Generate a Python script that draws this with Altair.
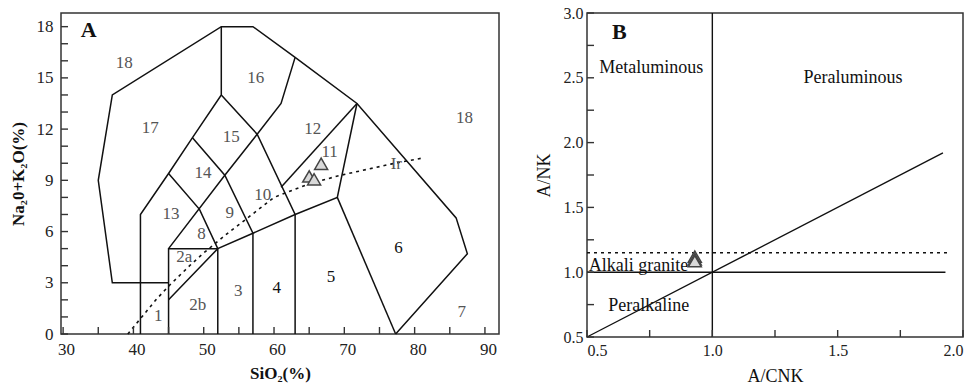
import altair as alt
import pandas as pd

SERIF = "Liberation Serif, Times New Roman, serif"
INK = "#111111"
GREY_TXT = "#555555"

# ---------------- Panel A: TAS diagram (Middlemost, 1994) ----------------
# Field boundaries as polylines of (SiO2 %, Na2O+K2O %)
outer_boundary = [(45, 3), (37, 3), (35, 9), (37, 14), (52.5, 18), (57, 18), (63, 16.2),
                  (71.8, 13.5), (85.9, 6.8), (87.5, 4.7), (77.3, 0)]
line_41 = [(41, 0), (41, 7), (45, 9.4), (48.4, 11.5), (52.5, 14), (52.5, 18)]
line_63 = [(52.5, 14), (57.6, 11.7), (63, 7), (63, 0)]
gabbro_box = [(45, 0), (45, 5), (52, 5), (52, 0)]
alkaline_base = [(45, 2), (52, 5), (57, 5.9), (63, 7), (69, 8), (71.8, 13.5)]
granite_left = [(69, 8), (77.3, 0)]
monzo_upper = [(45, 5), (53, 9.3), (57.6, 11.7), (61, 13.5), (63, 16.2)]
foid_gabbro_right = [(45, 9.4), (49.4, 7.3), (52, 5)]
monzodiorite_left = [(48.4, 11.5), (53, 9.3), (57, 5.9), (57, 0)]
syenite_base = [(61, 8.6), (71.8, 13.5)]

# Irvine & Baragar alkaline / subalkaline divide
irvine_sio2 = [39.2, 40, 43.2, 45, 48, 50, 53.7, 55, 60, 65, 69.5, 76.6, 81.4]
irvine_alk = [0, 0.4, 2.0, 2.8, 4.0, 4.75, 6.0, 6.4, 8.0, 8.8, 9.3, 9.95, 10.33]

# Samples
sample_sio2 = [66.7, 65.0, 65.7]
sample_alk = [9.97, 9.23, 9.06]

# Field numbers
field_names = ["18", "16", "17", "15", "12", "11", "Ir", "18", "14", "10", "13", "9", "8",
               "2a", "2b", "1", "3", "4", "5", "6", "7"]
field_sio2 = [38.7, 57.4, 42.4, 53.9, 65.5, 67.9, 77.4, 87.1, 49.9, 58.4, 45.35, 53.7, 49.7,
              47.25, 49.15, 43.55, 54.9, 60.4, 68.1, 77.7, 86.7]
field_alk = [15.85, 14.97, 12.05, 11.56, 11.99, 10.68, 9.96, 12.67, 9.41, 8.14, 7.03, 7.07, 5.83,
             4.53, 1.70, 1.05, 2.52, 2.71, 3.36, 5.06, 1.31]
dark_fields = {"4", "5", "6"}

sio2_ticks = list(range(30, 91, 5))
alk_ticks = list(range(0, 19, 1))

# ---------------- Panel B: A/CNK vs A/NK ----------------
acnk_split = [(1.0, 0.5), (1.0, 3.0)]
anK_split = [(0.5, 1.0), (1.93, 1.0)]
equal_line = [(0.5, 0.5), (1.92, 1.92)]
alkali_granite_limit = [(0.5, 1.15), (1.945, 1.15)]

b_sample_acnk = [0.93, 0.93, 0.93]
b_sample_ank = [1.12, 1.10, 1.085]

b_labels = ["Metaluminous", "Peraluminous", "Peralkaline"]
b_label_x = [0.756, 1.561, 0.746]
b_label_y = [2.579, 2.50, 0.739]

acnk_ticks = [0.5, 0.75, 1.0, 1.25, 1.5, 1.75, 2.0]
ank_ticks = [0.5, 0.75, 1.0, 1.25, 1.5, 1.75, 2.0, 2.25, 2.5, 2.75, 3.0]

W_A, H_A = 438, 321
W_B, H_B = 376, 324
TICK = 7


def polylines(named):
    rows = []
    for name, pts in named.items():
        for i, (px, py) in enumerate(pts):
            rows.append({"seg": name, "ord": i, "x": px, "y": py})
    return pd.DataFrame(rows)


def axis_kw(title, bold, size):
    return dict(ticks=False, domain=False, grid=False, labelOverlap=False,
                labelFont=SERIF, labelColor="#222", titleFont=SERIF,
                titleFontWeight="bold" if bold else "normal", titleFontSize=size,
                titleColor="#111", title=title)


# ---- Panel A ----
xA = alt.X("x:Q", scale=alt.Scale(domain=[29.7, 92.0], nice=False, zero=False),
           axis=alt.Axis(values=list(range(30, 91, 10)), labelFontSize=17, labelPadding=7,
                         labelOffset=3, titlePadding=8, **axis_kw("SiO₂(%)", True, 17)))
yA = alt.Y("y:Q", scale=alt.Scale(domain=[0, 18.8], nice=False, zero=False),
           axis=alt.Axis(values=list(range(0, 19, 3)), labelFontSize=17, labelPadding=8,
                         titlePadding=9, **axis_kw("Na₂0+K₂O(%)", True, 17)))

bounds_df = polylines({
    "outer": outer_boundary, "l41": line_41, "l63": line_63, "gab": gabbro_box,
    "alk": alkaline_base, "gra": granite_left, "monzo": monzo_upper,
    "foid": foid_gabbro_right, "mdio": monzodiorite_left, "sye": syenite_base,
})
bounds = alt.Chart(bounds_df).mark_line(color=INK, strokeWidth=1.5).encode(
    x=xA, y=yA, detail="seg:N", order="ord:Q")

irv_df = pd.DataFrame({"x": irvine_sio2, "y": irvine_alk})
irvine = alt.Chart(irv_df).mark_line(color=INK, strokeWidth=1.6, strokeDash=[3, 4]).encode(
    x=xA, y=yA, order=alt.Order("x:Q"))

lab_df = pd.DataFrame({"x": field_sio2, "y": field_alk, "t": field_names})
lab_df["c"] = [INK if t in dark_fields else GREY_TXT for t in field_names]
labels_a = alt.Chart(lab_df).mark_text(font=SERIF, fontSize=17, baseline="middle").encode(
    x=xA, y=yA, text="t:N", color=alt.Color("c:N", scale=None))

samp_a = alt.Chart(pd.DataFrame({"x": sample_sio2, "y": sample_alk})).mark_point(
    shape="triangle-up", filled=True, size=170, fill="#d9d9d9", stroke="#444",
    strokeWidth=1.5, opacity=1).encode(x=xA, y=yA)

xt_a = alt.Chart(pd.DataFrame({"x": sio2_ticks})).mark_rule(color="#333", strokeWidth=1.4).encode(
    x=xA, y=alt.value(H_A), y2=alt.value(H_A - TICK))
yt_a = alt.Chart(pd.DataFrame({"y": alk_ticks})).mark_rule(color="#333", strokeWidth=1.4).encode(
    y=yA, x=alt.value(0), x2=alt.value(TICK))

tag_a = alt.Chart(pd.DataFrame({"x": [33.64], "y": [17.78], "t": ["A"]})).mark_text(
    font=SERIF, fontSize=22, fontWeight="bold", color=INK, baseline="middle").encode(
    x=xA, y=yA, text="t:N")

panel_a = alt.layer(bounds, irvine, xt_a, yt_a, labels_a, samp_a, tag_a).properties(
    width=W_A, height=H_A)

# ---- Panel B ----
xB = alt.X("x:Q", scale=alt.Scale(domain=[0.5, 2.0], nice=False, zero=False),
           axis=alt.Axis(values=[0.5, 1.0, 1.5, 2.0], format=".1f", labelFontSize=16,
                         labelPadding=5, titlePadding=9, **axis_kw("A/CNK", False, 18)))
yB = alt.Y("y:Q", scale=alt.Scale(domain=[0.5, 3.0], nice=False, zero=False),
           axis=alt.Axis(values=[0.5, 1.0, 1.5, 2.0, 2.5, 3.0], format=".1f", labelFontSize=16,
                         labelPadding=4, titlePadding=10, **axis_kw("A/NK", False, 18)))

solid_b = alt.Chart(polylines({"v": acnk_split, "h": anK_split, "d": equal_line})).mark_line(
    color=INK, strokeWidth=1.4).encode(x=xB, y=yB, detail="seg:N", order="ord:Q")
dash_b = alt.Chart(polylines({"ag": alkali_granite_limit})).mark_line(
    color=INK, strokeWidth=1.4, strokeDash=[3, 4]).encode(x=xB, y=yB, order="ord:Q")

lab_b = alt.Chart(pd.DataFrame({"x": b_label_x, "y": b_label_y, "t": b_labels})).mark_text(
    font=SERIF, fontSize=18, color=INK, baseline="middle").encode(x=xB, y=yB, text="t:N")
ag_lab = alt.Chart(pd.DataFrame({"x": [0.507], "y": [1.0], "t": ["Alkali granite"]})).mark_text(
    font=SERIF, fontSize=18, color=INK, align="left", baseline="alphabetic", dy=-1).encode(
    x=xB, y=yB, text="t:N")
tag_b = alt.Chart(pd.DataFrame({"x": [0.629], "y": [2.857], "t": ["B"]})).mark_text(
    font=SERIF, fontSize=22, fontWeight="bold", color=INK, baseline="middle").encode(
    x=xB, y=yB, text="t:N")

samp_b = alt.Chart(pd.DataFrame({"x": b_sample_acnk, "y": b_sample_ank})).mark_point(
    shape="triangle-up", filled=True, size=170, fill="#d9d9d9", stroke="#444",
    strokeWidth=1.5, opacity=1).encode(x=xB, y=yB)

xt_b = alt.Chart(pd.DataFrame({"x": acnk_ticks})).mark_rule(color="#333", strokeWidth=1.4).encode(
    x=xB, y=alt.value(H_B), y2=alt.value(H_B - TICK))
yt_b = alt.Chart(pd.DataFrame({"y": ank_ticks})).mark_rule(color="#333", strokeWidth=1.4).encode(
    y=yB, x=alt.value(0), x2=alt.value(TICK))

panel_b = alt.layer(solid_b, dash_b, xt_b, yt_b, lab_b, ag_lab, samp_b, tag_b).properties(
    width=W_B, height=H_B)

chart = alt.hconcat(panel_a, panel_b, spacing=34).properties(
    padding={"left": 8, "top": 4, "right": 0, "bottom": 0}
).configure_view(stroke="#333", strokeWidth=1.5)

chart.save("out.html", embed_options={"renderer": "svg", "actions": False})
